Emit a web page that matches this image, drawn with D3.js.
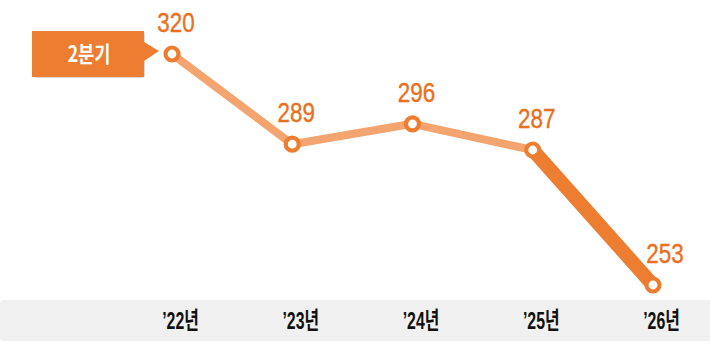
<!DOCTYPE html>
<html>
<head>
<meta charset="utf-8">
<script src="https://cdn.jsdelivr.net/npm/d3@7"></script>
<style>
  html, body { margin: 0; padding: 0; background: #fff; }
  svg { display: block; }
</style>
</head>
<body>
<div id="chart"></div>
<script>
// data
const years = ["’22년", "’23년", "’24년", "’25년", "’26년"];
const values = [320, 289, 296, 287, 253];
const calloutLabel = "2분기";

const width = 710;
const height = 346;

const svg = d3.select("#chart").append("svg")
    .attr("width", width)
    .attr("height", height);

// scales
const x = d3.scalePoint()
    .domain(years)
    .range([172, 653]);

// the original drawing stretches the last drop, so the y scale is piecewise
const y = d3.scaleLinear()
    .domain([253, 287, 320])
    .range([285, 150, 54]);

const points = years.map((yr, i) => ({ year: yr, value: values[i] }));

// axis band
svg.append("rect")
    .attr("x", 0)
    .attr("y", 300)
    .attr("width", width + 10)
    .attr("height", 41)
    .attr("rx", 4)
    .attr("fill", "#f0f0f0");

const axis = svg.append("g")
    .attr("transform", "translate(0, 321)")
    .call(d3.axisBottom(x).tickSize(0).tickPadding(0));
axis.select(".domain").remove();
axis.selectAll("text")
    .attr("y", 0)
    .attr("dy", 0)
    .attr("fill", "#111")
    .style("font-family", "'Liberation Sans', 'Noto Sans CJK KR', sans-serif")
    .style("font-weight", "bold")
    .style("font-size", "24px")
    .attr("text-anchor", "middle")
    .attr("dominant-baseline", "central")
    .attr("transform", "translate(8, 0) scale(0.66, 1)");

// lines
const line = d3.line()
    .x(d => x(d.year))
    .y(d => y(d.value));

svg.append("path")
    .datum(points.slice(0, 4))
    .attr("d", line)
    .attr("fill", "none")
    .attr("stroke", "#f4a46e")
    .attr("stroke-width", 8)
    .attr("stroke-linejoin", "round")
    .attr("stroke-linecap", "round");

svg.append("path")
    .datum(points.slice(3))
    .attr("d", line)
    .attr("fill", "none")
    .attr("stroke", "#ed7d31")
    .attr("stroke-width", 14)
    .attr("stroke-linecap", "round");

// markers
svg.selectAll("circle.pt")
    .data(points)
    .enter()
    .append("circle")
    .attr("class", "pt")
    .attr("cx", d => x(d.year))
    .attr("cy", d => y(d.value))
    .attr("r", 6.5)
    .attr("fill", "#fff")
    .attr("stroke", "#ed7d31")
    .attr("stroke-width", 4.2);

// value labels
svg.selectAll("text.val")
    .data(points)
    .enter()
    .append("text")
    .attr("class", "val")
    .attr("transform", (d, i) => `translate(${x(d.year) + (i === points.length - 1 ? 12 : 4)}, ${y(d.value) - 22}) scale(0.8, 1)`)
    .attr("text-anchor", "middle")
    .attr("fill", "#e8701f")
    .attr("stroke", "#e8701f")
    .attr("stroke-width", 0.4)
    .style("font-family", "'Liberation Sans', Arial, sans-serif")
    .style("font-size", "28px")
    .text(d => d.value);

// callout
const cx0 = x(years[0]);
const cy0 = y(values[0]);
const callout = svg.append("g");

callout.append("rect")
    .attr("x", 33)
    .attr("y", cy0 - 22)
    .attr("width", 112)
    .attr("height", 46)
    .attr("rx", 3)
    .attr("fill", "#d9d9d9");

callout.append("path")
    .attr("d", `M32,${cy0 - 23} H144 V${cy0 - 12} L${cx0 - 13},${cy0 - 3} L144,${cy0 + 7} V${cy0 + 23} H32 Z`)
    .attr("fill", "#ed7d31");

callout.append("text")
    .attr("transform", `translate(89, ${cy0 + 8}) scale(0.8, 1)`)
    .attr("text-anchor", "middle")
    .attr("fill", "#fff")
    .style("font-family", "'Noto Sans CJK KR', sans-serif")
    .style("font-weight", "bold")
    .style("font-size", "22px")
    .text(calloutLabel);
</script>
</body>
</html>
